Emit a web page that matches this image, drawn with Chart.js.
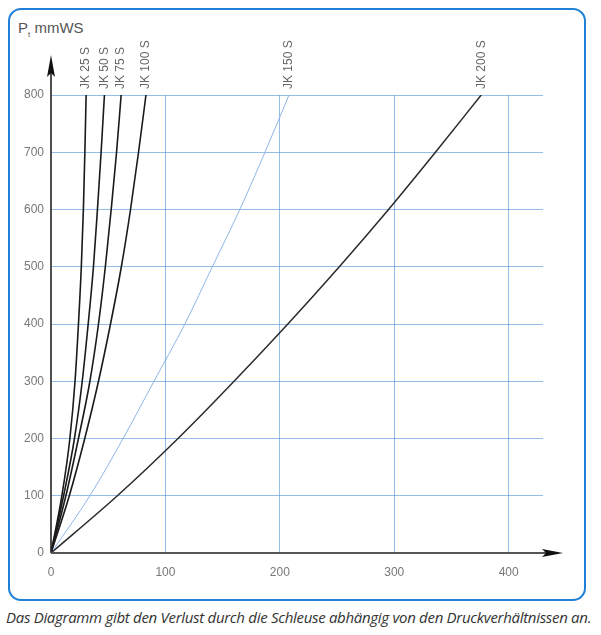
<!DOCTYPE html>
<html>
<head>
<meta charset="utf-8">
<script src="https://cdn.jsdelivr.net/npm/chart.js@4.4.0/dist/chart.umd.min.js"></script>
<style>
  html, body { margin: 0; padding: 0; background: #fff; }
  body { width: 601px; height: 635px; position: relative; overflow: hidden; }
  #frame {
    position: absolute; left: 8px; top: 8px; width: 574px; height: 589px;
    border: 2.5px solid #1f80d6; border-radius: 13px;
  }
  #wrap { position: absolute; left: 0; top: 0; width: 601px; height: 600px; }
  #caption {
    position: absolute; left: 6px; top: 607px; width: 595px;
    font-family: "Open Sans", sans-serif; font-style: italic; font-size: 15px;
    letter-spacing: -0.3px; color: #333; white-space: nowrap;
  }
  #ylabel {
    position: absolute; left: 18px; top: 19px;
    font-family: "Liberation Sans", Arial, sans-serif; font-size: 15px; color: #555;
  }
  #ylabel sub { font-size: 8px; }
</style>
</head>
<body>
<div id="frame"></div>
<div id="ylabel">P<sub>t</sub> mmWS</div>
<div id="wrap"><canvas id="chart"></canvas></div>
<div id="caption">Das Diagramm gibt den Verlust durch die Schleuse abhängig von den Druckverhältnissen an.</div>
<script>
// pressure steps (mmWS) at which each curve was read
const pressure = [0, 100, 200, 300, 400, 500, 600, 700, 800];
// flow values for every lock size
const jk25  = [0, 9.5, 16.5, 21, 24, 26.5, 28.3, 29.6, 30.7];
const jk50  = [0, 11, 20.5, 27.3, 32.5, 37.1, 40.6, 43.8, 46.7];
const jk75  = [0, 13, 24, 34, 41.5, 47.5, 52.6, 57.3, 61.3];
const jk100 = [0, 16, 29.5, 41.5, 52, 61.5, 69.5, 76.5, 83];
const jk150 = [0, 34, 63, 90, 117, 141, 165, 187, 208];
const jk200 = [0, 58, 111, 160, 207, 252, 295, 336, 376];
const names = ["JK 25 S", "JK 50 S", "JK 75 S", "JK 100 S", "JK 150 S", "JK 200 S"];
const xTicks = [0, 100, 200, 300, 400];
const yTicks = [0, 100, 200, 300, 400, 500, 600, 700, 800];

function toPoints(xs) {
    return xs.map((x, i) => ({ x: x, y: pressure[i] }));
}

const series = [jk25, jk50, jk75, jk100, jk150, jk200];
const colors = ['#1a1a1a', '#1a1a1a', '#1a1a1a', '#1a1a1a', '#8fb6e6', '#2a2a2a'];
const widths = [1.6, 1.6, 1.6, 1.6, 1, 1.5];

const datasets = series.map((s, i) => ({
    label: names[i],
    data: toPoints(s),
    borderColor: colors[i],
    borderWidth: widths[i],
    pointRadius: 0,
    fill: false,
    cubicInterpolationMode: 'monotone'
}));

// axis arrows and curve labels
const decorations = {
    id: 'decorations',
    afterDraw(chart) {
        const ctx = chart.ctx;
        const xs = chart.scales.x, ys = chart.scales.y;
        const x0 = xs.getPixelForValue(0), y0 = ys.getPixelForValue(0);
        const right = chart.chartArea.right, top = chart.chartArea.top;
        ctx.save();
        ctx.strokeStyle = '#222';
        ctx.fillStyle = '#111';
        ctx.lineWidth = 1.6;
        // y axis
        ctx.beginPath();
        ctx.moveTo(x0, y0);
        ctx.lineTo(x0, top - 30);
        ctx.stroke();
        ctx.beginPath();
        ctx.moveTo(x0, top - 40);
        ctx.lineTo(x0 - 4, top - 18);
        ctx.lineTo(x0, top - 22);
        ctx.lineTo(x0 + 4, top - 18);
        ctx.closePath();
        ctx.fill();
        // x axis
        ctx.strokeStyle = '#555';
        ctx.lineWidth = 2;
        ctx.beginPath();
        ctx.moveTo(x0, y0);
        ctx.lineTo(right + 5, y0);
        ctx.stroke();
        ctx.beginPath();
        ctx.moveTo(right + 20, y0);
        ctx.lineTo(right - 1, y0 - 4);
        ctx.lineTo(right + 3, y0);
        ctx.lineTo(right - 1, y0 + 4);
        ctx.closePath();
        ctx.fill();
        // labels above curve ends
        ctx.fillStyle = '#666';
        ctx.font = '12px "Liberation Sans", Arial, sans-serif';
        ctx.textAlign = 'left';
        ctx.textBaseline = 'middle';
        series.forEach((s, i) => {
            const px = xs.getPixelForValue(s[s.length - 1]);
            const py = ys.getPixelForValue(pressure[pressure.length - 1]);
            ctx.save();
            ctx.translate(px, py - 6);
            ctx.rotate(-Math.PI / 2);
            ctx.fillText(names[i], 0, 0);
            ctx.restore();
        });
        ctx.restore();
    }
};

const ctx = document.getElementById('chart').getContext('2d');
new Chart(ctx, {
    type: 'line',
    data: { datasets: datasets },
    options: {
        responsive: true,
        maintainAspectRatio: false,
        animation: false,
        layout: { padding: { left: 0, right: 58, top: 95, bottom: 0 } },
        plugins: {
            legend: { display: false },
            tooltip: { enabled: false }
        },
        scales: {
            x: {
                type: 'linear',
                min: 0,
                max: 430,
                afterFit: scale => { scale.height = 47; },
                afterBuildTicks: scale => { scale.ticks = xTicks.map(v => ({ value: v })); },
                border: { display: false },
                grid: {
                    color: ctx => ctx.tick && ctx.tick.value === 0 ? 'rgba(0,0,0,0)' : 'rgba(80,145,215,0.6)',
                    lineWidth: 1,
                    drawTicks: false
                },
                ticks: {
                    padding: 12,
                    color: '#777',
                    font: { family: '"Liberation Sans", Arial, sans-serif', size: 12 }
                }
            },
            y: {
                type: 'linear',
                min: 0,
                max: 800,
                afterFit: scale => { scale.width = 51; },
                afterBuildTicks: scale => { scale.ticks = yTicks.map(v => ({ value: v })); },
                border: { display: false },
                grid: {
                    color: ctx => ctx.tick && ctx.tick.value === 0 ? 'rgba(0,0,0,0)' : 'rgba(80,145,215,0.6)',
                    lineWidth: 1,
                    drawTicks: false
                },
                ticks: {
                    padding: 7,
                    color: '#777',
                    font: { family: '"Liberation Sans", Arial, sans-serif', size: 12 }
                }
            }
        }
    },
    plugins: [decorations]
});
</script>
</body>
</html>
